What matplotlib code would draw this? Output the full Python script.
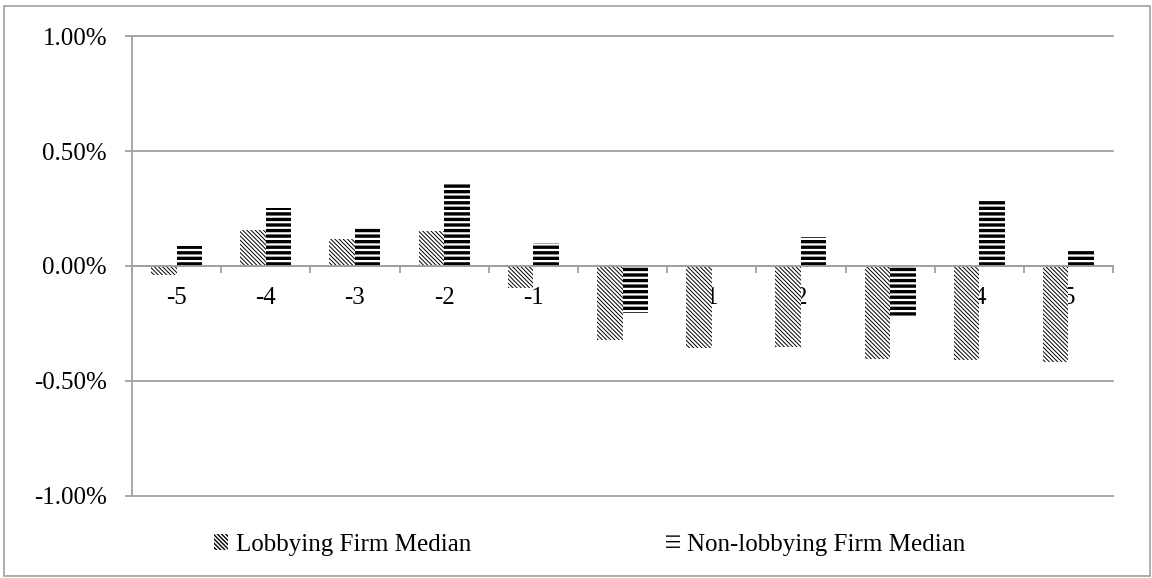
import numpy as np
import matplotlib
matplotlib.use("Agg")
from matplotlib import pyplot as plt
from matplotlib.ticker import FuncFormatter, FixedLocator

plt.rcParams['font.family'] = ['Liberation Serif', 'DejaVu Serif']

days = [-5, -4, -3, -2, -1, 0, 1, 2, 3, 4, 5]
lobbying = [-0.04, 0.155, 0.117, 0.150, -0.095, -0.320, -0.357, -0.352, -0.405, -0.409, -0.416]
non_lobbying = [0.088, 0.250, 0.165, 0.357, 0.100, -0.205, 0.0, 0.125, -0.217, 0.290, 0.070]

fig = plt.figure(figsize=(11.52, 5.78), dpi=100)
ax = fig.add_axes([0.1146, 0.1419, 0.8516, 0.7958])

x = np.arange(len(days))
w = 0.286
grey = '#a0a0a0'

# thin dense diagonals for one series, heavy horizontal stripes for the other
with plt.rc_context({'hatch.linewidth': 0.7, 'hatch.color': 'black'}):
    b1 = ax.bar(x - w / 2, lobbying, w, color='white', edgecolor='black',
                linewidth=0, hatch='\\' * 8, label='Lobbying Firm Median', zorder=3)
with plt.rc_context({'hatch.linewidth': 2.4, 'hatch.color': 'black'}):
    b2 = ax.bar(x + w / 2, non_lobbying, w, color='white', edgecolor='black',
                linewidth=0, hatch='---', label='Non-lobbying Firm Median', zorder=3)

ax.set_xlim(-0.5, len(days) - 0.5)
ax.set_ylim(-1.0, 1.0)
ax.set_yticks([-1.0, -0.5, 0.0, 0.5, 1.0])
ax.yaxis.set_major_formatter(FuncFormatter(lambda v, p: f"{v:.2f}%"))
ax.grid(axis='y', color=grey, linewidth=1.3, zorder=0)
for gl in ax.get_ygridlines():
    gl.set_clip_on(False)

for s in ['top', 'right']:
    ax.spines[s].set_visible(False)
ax.spines['bottom'].set_position(('data', 0))
ax.spines['bottom'].set_color(grey)
ax.spines['bottom'].set_linewidth(1.3)
ax.spines['bottom'].set_zorder(4)
ax.spines['left'].set_color(grey)
ax.spines['left'].set_linewidth(1.3)

ax.set_xticks(x)
ax.set_xticklabels([str(d) for d in days])
ax.xaxis.set_minor_locator(FixedLocator(np.arange(-0.5, len(days), 1.0)))
ax.tick_params(axis='x', which='major', length=0, pad=15, labelsize=18)
ax.tick_params(axis='x', which='minor', length=5, width=1.3, color=grey, direction='out')
ax.tick_params(axis='y', length=5, width=1.3, color=grey, labelsize=18, pad=13)
for t in ax.get_xticklabels():
    t.set_zorder(5)

fig.legend(handles=[b1, b2], loc='center', bbox_to_anchor=(0.512, 0.057), ncol=2,
           frameon=False, fontsize=18, handlelength=0.56, handleheight=0.6,
           handletextpad=0.3, columnspacing=7.8)

fig.patches.append(plt.Rectangle((4 / 1152, 0.003), 1 - 6 / 1152, 1 - 8 / 578,
                                 transform=fig.transFigure, fill=False,
                                 edgecolor=grey, linewidth=1.2))

fig.savefig("out.png", dpi=100)
